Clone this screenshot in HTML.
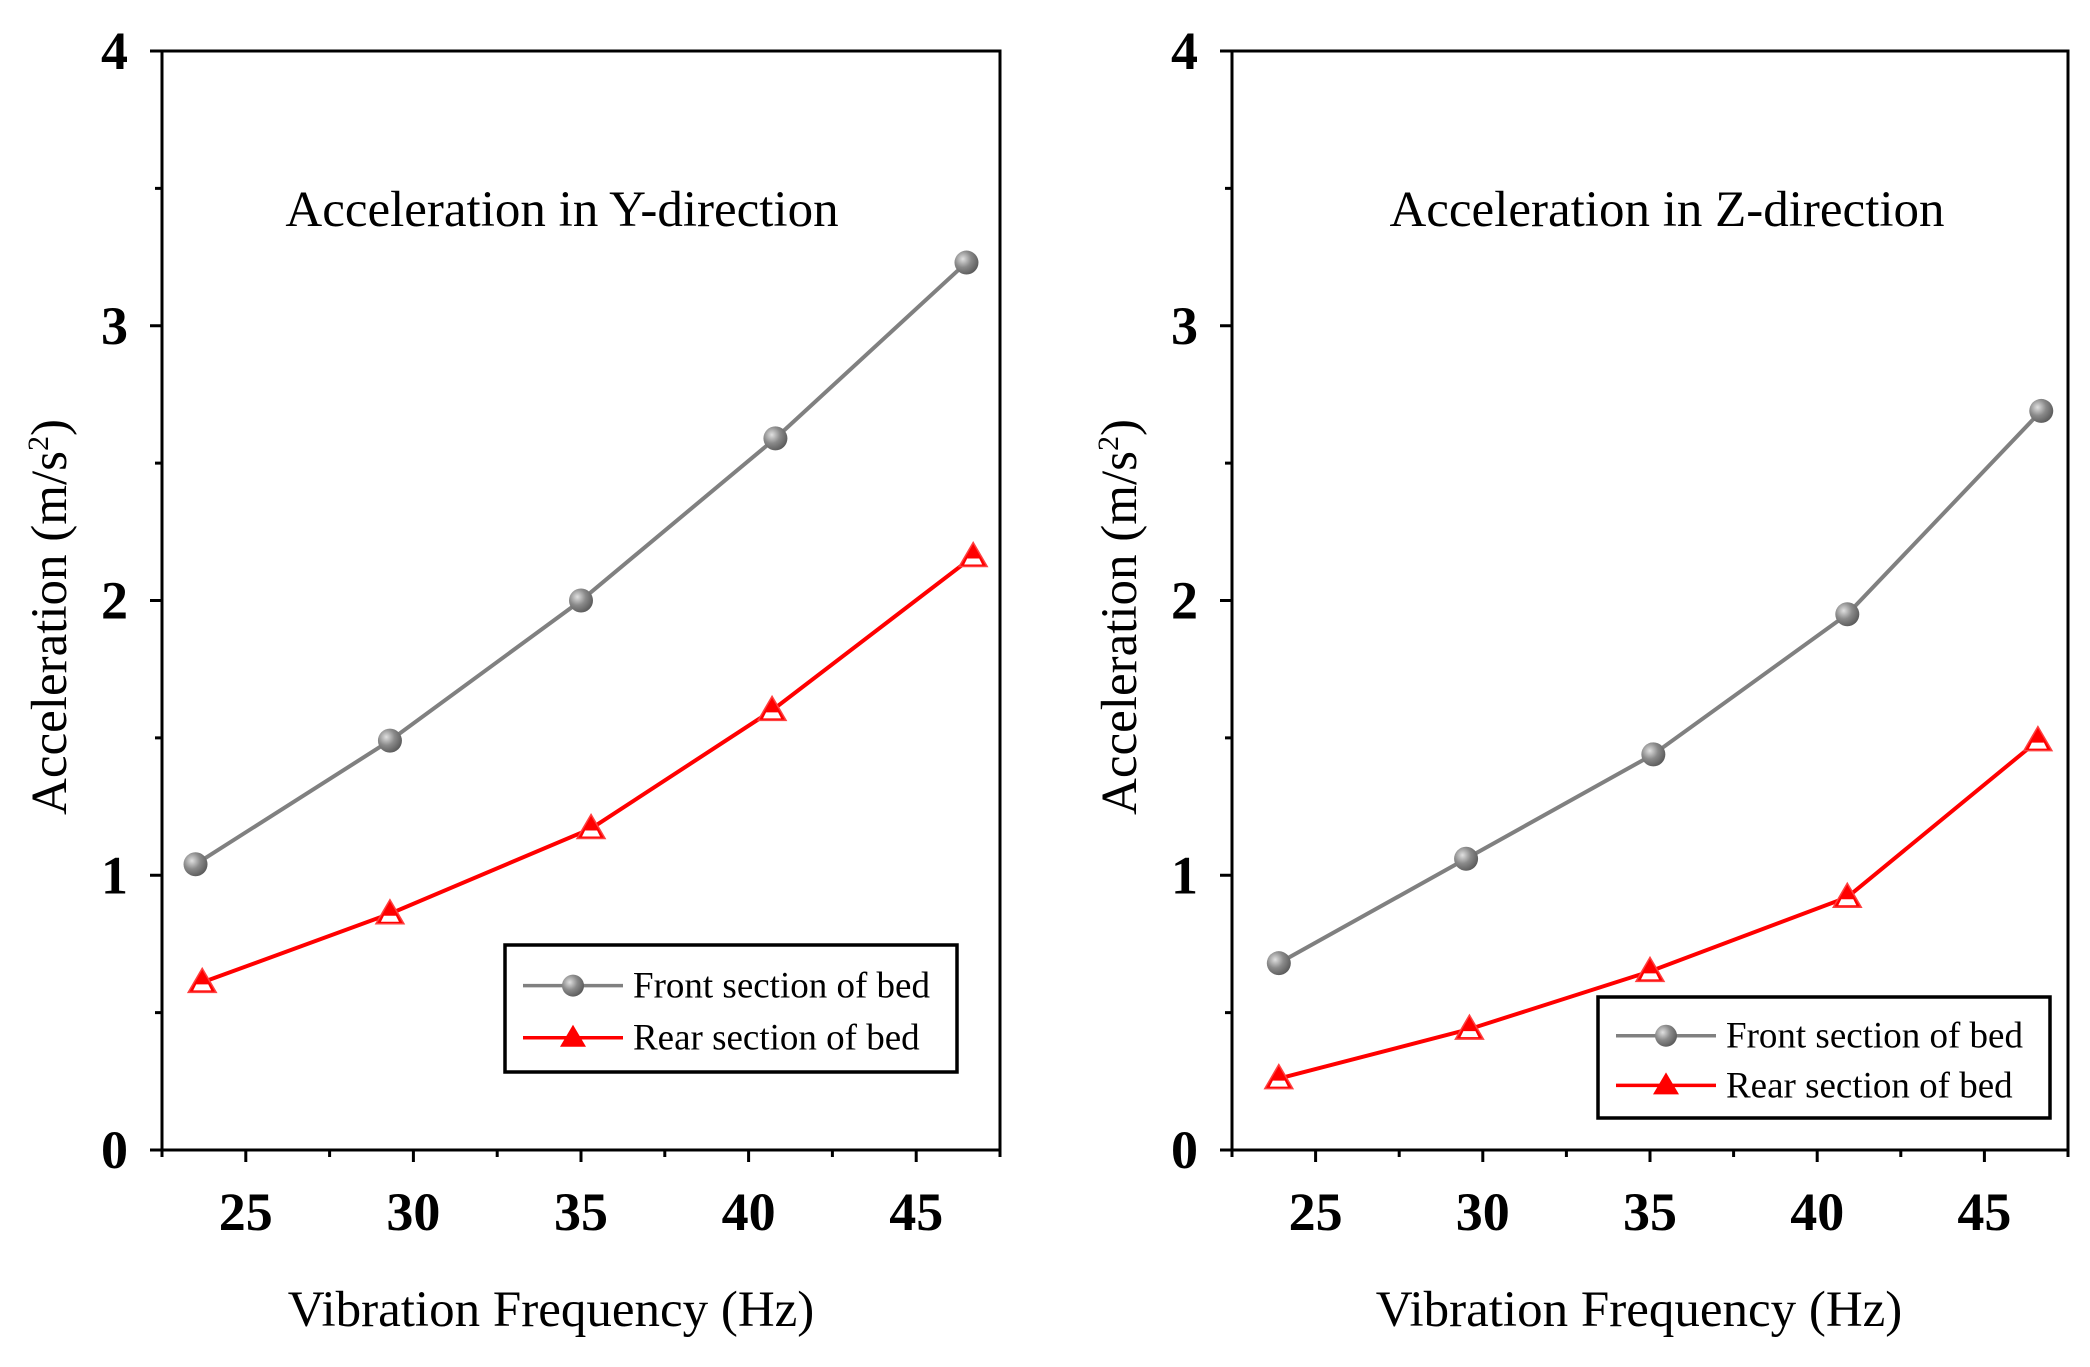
<!DOCTYPE html>
<html><head><meta charset="utf-8"><style>
html,body{margin:0;padding:0;background:#fff;}
svg{display:block;font-family:"Liberation Serif",serif;}
</style></head><body>
<svg id="c" width="2090" height="1367" viewBox="0 0 2090 1367" xmlns="http://www.w3.org/2000/svg">
<defs>
<radialGradient id="sph" cx="0.35" cy="0.35" r="0.7"><stop offset="0" stop-color="#e0e0e0"/><stop offset="0.5" stop-color="#8a8a8a"/><stop offset="1" stop-color="#5a5a5a"/></radialGradient>
</defs>
</svg>
<script>
const xTicks=[25,30,35,40,45];
const yTicks=[0,1,2,3,4];
const yFrontX=[23.5,29.3,35.0,40.8,46.5];
const yFrontV=[1.04,1.49,2.0,2.59,3.23];
const yRearX=[23.7,29.3,35.3,40.7,46.7];
const yRearV=[0.61,0.86,1.17,1.60,2.16];
const zFrontX=[23.9,29.5,35.1,40.9,46.7];
const zFrontV=[0.68,1.06,1.44,1.95,2.69];
const zRearX=[23.9,29.6,35.0,40.9,46.6];
const zRearV=[0.26,0.44,0.65,0.92,1.49];
const titles=["Acceleration in Y-direction","Acceleration in Z-direction"];
const seriesNames=["Front section of bed","Rear section of bed"];

const svg=document.getElementById('c');
const NS='http://www.w3.org/2000/svg';
function mk(tag,attrs,parent){const e=document.createElementNS(NS,tag);for(const k in attrs)e.setAttribute(k,attrs[k]);(parent||svg).appendChild(e);return e;}

const panels=[
 {L:162,R:1000,T:51,B:1150,fx:yFrontX,fv:yFrontV,rx:yRearX,rv:yRearV,title:titles[0],tx:562,xtx:551,ylx:52,leg:[505,945,452,127],name:'y-direction'},
 {L:1232,R:2068,T:51,B:1150,fx:zFrontX,fv:zFrontV,rx:zRearX,rv:zRearV,title:titles[1],tx:1667,xtx:1639,ylx:1122,leg:[1598,997,452,121],name:'z-direction'}
];
panels.forEach(p=>{
 const g=mk('g',{});
 
 
 const xs=v=>p.L+(v-22.5)/25*(p.R-p.L);
 const ys=v=>p.B-v/4*(p.B-p.T);
 const frame=mk('rect',{x:p.L,y:p.T,width:p.R-p.L,height:p.B-p.T,fill:'none',stroke:'#000','stroke-width':3},g);
 
 
 for(let v=0;v<=4.001;v+=0.5){
  const major=Math.abs(v-Math.round(v))<1e-6;
  mk('line',{x1:p.L,x2:p.L-(major?12:7),y1:ys(v),y2:ys(v),stroke:'#000','stroke-width':3},g);
 }
 yTicks.forEach(v=>{const t=mk('text',{x:p.L-34,y:ys(v)+18,'text-anchor':'end','font-size':54,'font-weight':'bold'},g);t.textContent=v;
  
  });
 for(let v=22.5;v<=47.51;v+=2.5){
  const major=Math.abs(v/5-Math.round(v/5))<1e-6;
  mk('line',{x1:xs(v),x2:xs(v),y1:p.B,y2:p.B+(major?12:7),stroke:'#000','stroke-width':3},g);
 }
 xTicks.forEach(v=>{const t=mk('text',{x:xs(v),y:p.B+80,'text-anchor':'middle','font-size':54,'font-weight':'bold'},g);t.textContent=v;
  
  });
 const xt=mk('text',{x:p.xtx,y:1326,'text-anchor':'middle','font-size':51},g);xt.textContent='Vibration Frequency (Hz)';
 
 
 const yt=mk('text',{x:0,y:0,'text-anchor':'middle','font-size':51,transform:`translate(${p.ylx+14},617) rotate(-90)`},g);
 yt.innerHTML='Acceleration (m/s<tspan font-size="30" dy="-18">2</tspan><tspan dy="18">)</tspan>';
 
 
 const tt=mk('text',{x:p.tx,y:226,'text-anchor':'middle','font-size':51},g);tt.textContent=p.title;
 
 
 const fl=mk('polyline',{points:p.fx.map((x,i)=>xs(x)+','+ys(p.fv[i])).join(' '),fill:'none',stroke:'#808080','stroke-width':4},g);
 
 
 const rl=mk('polyline',{points:p.rx.map((x,i)=>xs(x)+','+ys(p.rv[i])).join(' '),fill:'none',stroke:'#ff0000','stroke-width':4},g);
 
 
 p.fx.forEach((x,i)=>{const c=mk('circle',{cx:xs(x),cy:ys(p.fv[i]),r:12,fill:'url(#sph)'},g);
  
  });
 p.rx.forEach((x,i)=>{const cx=xs(x),cy=ys(p.rv[i]);
  const t=mk('polygon',{points:`${cx},${cy-14} ${cx-14},${cy+10} ${cx+14},${cy+10}`,fill:'#ff0000',stroke:'#ff4040','stroke-width':1.5},g);
  
  
  mk('polygon',{points:`${cx-9},${cy+8} ${cx+9},${cy+8} ${cx+6},${cy+2} ${cx-6},${cy+2}`,fill:'#fff'},g);});
 const [lx,ly,lw,lh]=p.leg;
 const lg=mk('g',{},g);
 
 
 mk('rect',{x:lx,y:ly,width:lw,height:lh,fill:'#fff',stroke:'#000','stroke-width':3.5},lg);
 const r1=ly+lh*0.32,r2=ly+lh*0.73;
 mk('line',{x1:lx+18,x2:lx+118,y1:r1,y2:r1,stroke:'#808080','stroke-width':3.5},lg);
 mk('circle',{cx:lx+68,cy:r1,r:11,fill:'url(#sph)'},lg);
 mk('line',{x1:lx+18,x2:lx+118,y1:r2,y2:r2,stroke:'#ff0000','stroke-width':3.5},lg);
 mk('polygon',{points:`${lx+68},${r2-13} ${lx+55},${r2+9} ${lx+81},${r2+9}`,fill:'#ff0000'},lg);
 seriesNames.forEach((n,i)=>{const t=mk('text',{x:lx+128,y:(i?r2:r1)+12,'font-size':37},lg);t.textContent=n;
  
  });
});
</script>
</body></html>
